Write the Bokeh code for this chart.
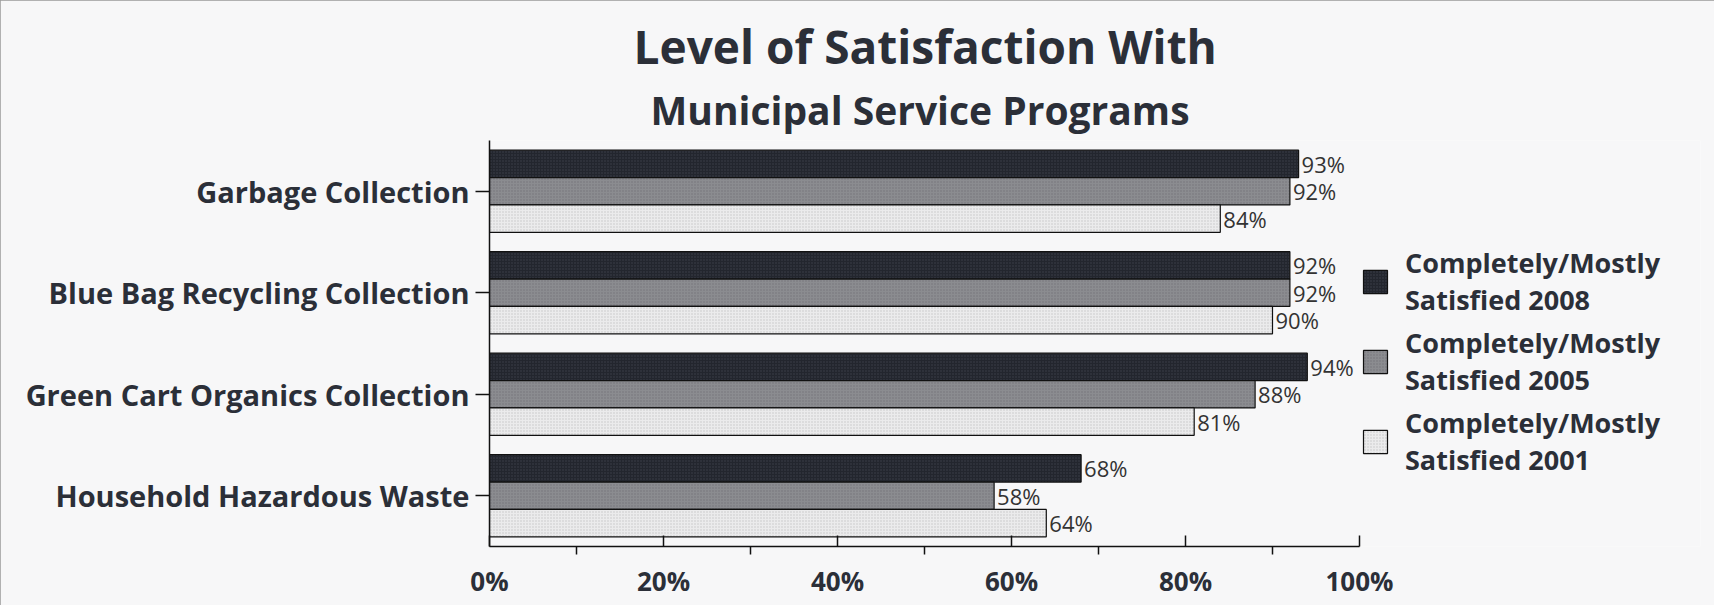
from bokeh.plotting import figure
from bokeh.models import (FactorRange, FixedTicker, PrintfTickFormatter, Title,
                          Legend, LegendItem, ColumnDataSource)
from bokeh.transform import dodge
from bokeh.core.properties import value
from bokeh.embed import file_html
from bokeh.resources import INLINE

categories = ["Garbage Collection", "Blue Bag Recycling Collection",
              "Green Cart Organics Collection", "Household Hazardous Waste"]
s2008 = [93, 92, 94, 68]
s2005 = [92, 92, 88, 58]
s2001 = [84, 90, 81, 64]
series_names = ["Completely/Mostly\nSatisfied 2008",
                "Completely/Mostly\nSatisfied 2005",
                "Completely/Mostly\nSatisfied 2001"]
x_ticks = [0, 20, 40, 60, 80, 100]
x_minor = [10, 30, 50, 70, 90]
title1 = "Level of Satisfaction With"
title2 = "Municipal Service Programs"

BG = "#f7f7f8"
TXT = "#2b2f38"
FONT = "Open Sans"

W, HT = 1714, 605
FL, FR, FT, FB = 489, 1700, 140, 546          # frame edges (px)
XEND = 100 * (FR - FL) / (1359 - FL)           # axis shows 0..100 only

src = ColumnDataSource(dict(
    cat=categories, v08=s2008, v05=s2005, v01=s2001,
    l08=[f"{v}%" for v in s2008], l05=[f"{v}%" for v in s2005], l01=[f"{v}%" for v in s2001],
))

p = figure(width=W, height=HT, output_backend="svg", toolbar_location=None,
           y_range=FactorRange(factors=list(reversed(categories)), range_padding=0),
           x_range=(0, XEND),
           min_border_left=FL, min_border_right=W - FR, min_border_top=FT, min_border_bottom=HT - FB)
p.background_fill_color = BG
p.border_fill_color = BG
p.outline_line_color = None
p.grid.visible = False
p.styles = {"outline": "1px solid #9a9a9a", "outline-offset": "-1px"}

H = 0.27
styles = [
    ("v08", "l08", 0.27, "#23262e", "#4a4e58"),
    ("v05", "l05", 0.0, "#8b8c90", "#6a6b70"),
    ("v01", "l01", -0.27, "#ebebec", "#b5b5b8"),
]
renderers = []
for col, lab, off, fc, hc in styles:
    r = p.hbar(y=dodge("cat", off, range=p.y_range), right=col, left=0, height=H, source=src,
               fill_color=fc, line_color="#111111", line_width=1.2,
               hatch_pattern="dot", hatch_color=hc, hatch_scale=3, hatch_weight=0.6, hatch_alpha=0.7)
    renderers.append(r)
    p.text(x=col, y=dodge("cat", off, range=p.y_range), text=lab, source=src,
           x_offset=3, text_baseline="middle", text_align="left",
           text_font=value(FONT), text_font_size="22px", text_color="#333333")

# axes
xa = p.xaxis[0]
xa.bounds = (0, 100)
xa.ticker = FixedTicker(ticks=x_ticks, minor_ticks=x_minor)
xa.formatter = PrintfTickFormatter(format="%d%%")
xa.major_tick_in = 11
xa.major_tick_out = 0
xa.minor_tick_in = 0
xa.minor_tick_out = 8
xa.axis_line_color = "#111111"
xa.axis_line_width = 1.5
xa.major_tick_line_color = "#111111"
xa.major_tick_line_width = 1.5
xa.minor_tick_line_color = "#111111"
xa.minor_tick_line_width = 1.5
xa.major_label_text_font = FONT
xa.major_label_text_font_style = "bold"
xa.major_label_text_font_size = "26px"
xa.major_label_text_color = TXT
xa.major_label_standoff = 8

ya = p.yaxis[0]
ya.major_tick_in = 0
ya.major_tick_out = 14
ya.minor_tick_out = 0
ya.axis_line_color = "#111111"
ya.axis_line_width = 1.5
ya.major_tick_line_color = "#111111"
ya.major_tick_line_width = 1.5
ya.major_label_text_font = FONT
ya.major_label_text_font_style = "bold"
ya.major_label_text_font_size = "29px"
ya.major_label_text_color = TXT
ya.major_label_standoff = 6

# titles: two lines, placed from the frame's left edge so they centre over 0..100
p.title.text = title1
p.title.align = "left"
p.title.offset = 633 - FL
p.title.text_font = FONT
p.title.text_font_style = "bold"
p.title.text_font_size = "46px"
p.title.text_color = TXT
p.title.standoff = 0
t2 = Title(text=title2, align="left", offset=650 - FL, text_font=FONT, text_font_style="bold",
           text_font_size="39px", text_color=TXT, standoff=9, text_line_height=0.85)
p.add_layout(t2, "above")

legend = Legend(items=[LegendItem(label=n, renderers=[r]) for n, r in zip(series_names, renderers)],
                location=(1360 - FL, 68), padding=0, margin=0, spacing=6,
                glyph_width=30, glyph_height=29, label_standoff=15,
                label_text_font=FONT, label_text_font_style="bold", label_text_font_size="27px",
                label_text_color=TXT,
                border_line_color=None, background_fill_alpha=0)
p.add_layout(legend, "center")

open("out.html", "w").write(file_html(p, INLINE))
